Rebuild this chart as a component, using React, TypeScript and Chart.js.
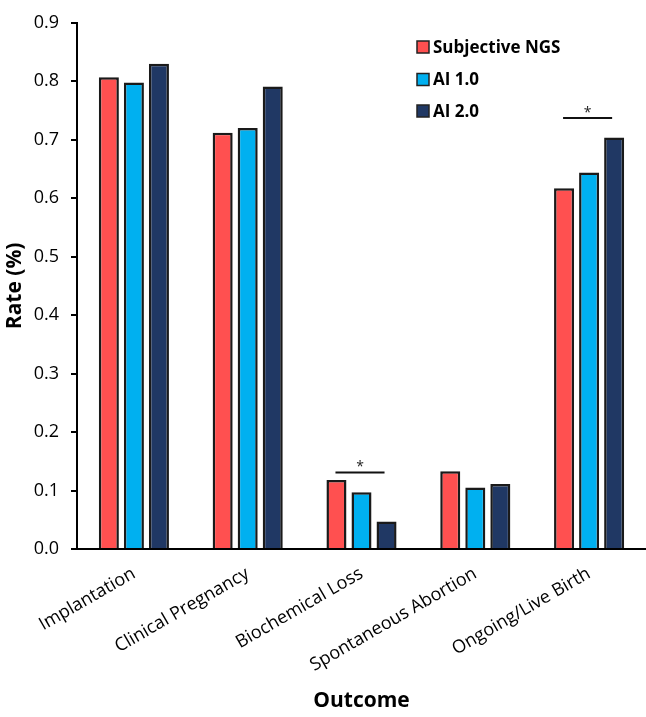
import React, { useEffect, useRef } from "react";
import { Chart, registerables } from "chart.js";

Chart.register(...registerables);

const categories = [
  "Implantation",
  "Clinical Pregnancy",
  "Biochemical Loss",
  "Spontaneous Abortion",
  "Ongoing/Live Birth",
];
const subjectiveNGS = [0.807, 0.712, 0.118, 0.133, 0.617];
const ai10 = [0.798, 0.72, 0.097, 0.105, 0.644];
const ai20 = [0.83, 0.791, 0.047, 0.111, 0.704];
const seriesLabels = ["Subjective NGS", "AI 1.0", "AI 2.0"];
const seriesColors = ["#FF5050", "#00B0F0", "#203864"];

const yMin = 0;
const yMax = 0.9;
const yStep = 0.1;

// significance annotations: category index, bracket level, mark
const sigCategories = [2, 4];
const sigLevels = [0.131, 0.737];
const sigMarks = ["*", "*"];

const FONT = "'Open Sans', 'DejaVu Sans', sans-serif";

const sigPlugin = {
  id: "sigPlugin",
  afterDatasetsDraw(chart: any) {
    const ctx = chart.ctx;
    const y = chart.scales.y;
    const m0 = chart.getDatasetMeta(0);
    const m2 = chart.getDatasetMeta(2);
    ctx.save();
    sigCategories.forEach((ci, i) => {
      const x1 = m0.data[ci].x - 1;
      const x2 = m2.data[ci].x - 2;
      const py = y.getPixelForValue(sigLevels[i]);
      ctx.strokeStyle = "#111";
      ctx.lineWidth = 2;
      ctx.beginPath();
      ctx.moveTo(x1, py);
      ctx.lineTo(x2, py);
      ctx.stroke();
      ctx.fillStyle = "#222";
      ctx.font = `14px ${FONT}`;
      ctx.textAlign = "center";
      ctx.textBaseline = "middle";
      ctx.fillText(sigMarks[i], (x1 + x2) / 2, py - 5);
    });
    ctx.restore();
  },
};

const legendPlugin = {
  id: "customLegend",
  afterDraw(chart: any) {
    const ctx = chart.ctx;
    const x0 = 417;
    const rows = [47, 79.5, 111];
    ctx.save();
    chart.data.datasets.forEach((ds: any, i: number) => {
      const cy = rows[i];
      ctx.fillStyle = ds.backgroundColor;
      ctx.fillRect(x0, cy - 6, 12, 12);
      ctx.strokeStyle = "#222";
      ctx.lineWidth = 1.5;
      ctx.strokeRect(x0, cy - 6, 12, 12);
      ctx.fillStyle = "#000";
      ctx.font = `bold 17px ${FONT}`;
      ctx.textAlign = "left";
      ctx.textBaseline = "middle";
      ctx.fillText(ds.label, x0 + 16, cy + 1);
    });
    ctx.restore();
  },
};

export default function App() {
  const ref = useRef<HTMLCanvasElement | null>(null);
  useEffect(() => {
    document.body.style.margin = "0";
    const canvas = ref.current!;
    const seriesValues = [subjectiveNGS, ai10, ai20];
    const chart = new Chart(canvas, {
      type: "bar",
      data: {
        labels: categories,
        datasets: seriesLabels.map((label, i) => ({
          label,
          data: seriesValues[i],
          backgroundColor: seriesColors[i],
          borderColor: "#1a1a1a",
          borderWidth: 2.5,
          categoryPercentage: 0.66,
          barPercentage: 0.8,
        })),
      },
      options: {
        responsive: false,
        animation: false,
        layout: { padding: { top: 11, right: 0, left: 0, bottom: 0 } },
        plugins: {
          legend: { display: false },
          tooltip: { enabled: false },
        },
        scales: {
          x: {
            grid: { display: false },
            border: { display: true, color: "#000", width: 2 },
            ticks: {
              color: "#000",
              font: { family: FONT, size: 18 },
              minRotation: 30,
              maxRotation: 30,
              autoSkip: false,
              padding: 6,
            },
            title: {
              display: true,
              text: "Outcome",
              color: "#000",
              font: { family: FONT, size: 21, weight: "bold" },
              padding: { top: 0, bottom: 3 },
            },
            afterFit(scale: any) {
              scale.height = 168;
            },
          },
          y: {
            min: yMin,
            max: yMax,
            grid: {
              display: true,
              drawOnChartArea: false,
              drawTicks: true,
              tickLength: 6,
              color: "#000",
              lineWidth: 2,
            },
            border: { display: true, color: "#000", width: 2 },
            ticks: {
              stepSize: yStep,
              color: "#000",
              font: { family: FONT, size: 18 },
              padding: 12,
              callback: (v: any) => Number(v).toFixed(1),
            },
            title: {
              display: true,
              text: "Rate (%)",
              color: "#000",
              font: { family: FONT, size: 21, weight: "bold" },
              padding: { top: 2, bottom: 0 },
            },
            afterFit(scale: any) {
              scale.width = 77;
            },
          },
        },
      },
      plugins: [sigPlugin, legendPlugin],
    } as any);
    return () => chart.destroy();
  }, []);
  return (
    <div style={{ width: 646, height: 717, background: "#fff" }}>
      <canvas ref={ref} width={646} height={717} style={{ display: "block" }} />
    </div>
  );
}
